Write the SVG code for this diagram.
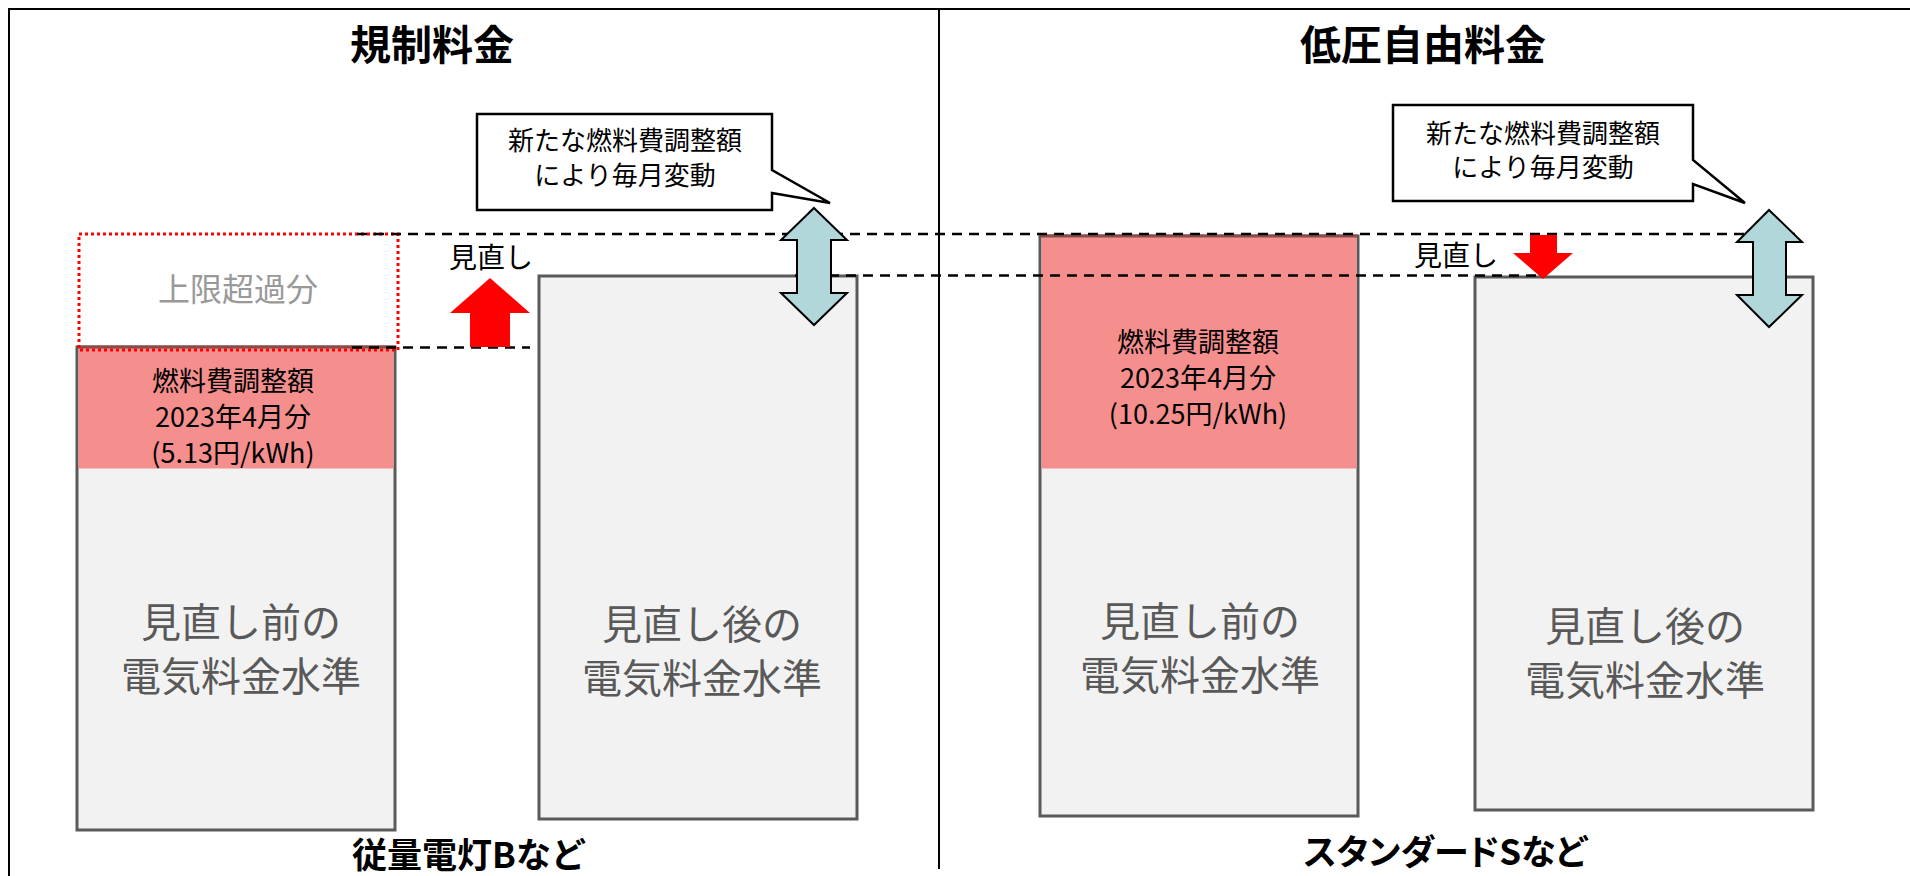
<svg xmlns="http://www.w3.org/2000/svg" width="1910" height="876" viewBox="0 0 1910 876">
<style>
text{font-family:"Noto Sans CJK JP","Noto Sans",sans-serif;text-anchor:middle}
.title{font-size:41px;font-weight:bold;fill:#000}
.sub{font-size:35px;font-weight:bold;fill:#000}
.call{font-size:26px;fill:#000}
.pinkt{font-size:27px;fill:#000}
.big{font-size:40px;fill:#595959}
.rev{font-size:28px;fill:#000}
.box{fill:#F2F2F2;stroke:#5A5A5A;stroke-width:3}
.pink{fill:#F58F8E}
.frame{stroke:#000;stroke-width:2;fill:none}
.dash{stroke:#000;stroke-width:2.5;stroke-dasharray:10 7;fill:none}
.bub{fill:#fff;stroke:#000;stroke-width:2.5;stroke-linejoin:miter}
.dbl{fill:#B2D7DA;stroke:#000;stroke-width:2;stroke-linejoin:miter}
.red{fill:#FF0000}
</style>
<rect x="0" y="0" width="1910" height="876" fill="#fff"/>
<g id="frame">
<line class="frame" x1="8" y1="9" x2="1910" y2="9"/>
<line class="frame" x1="9" y1="8" x2="9" y2="876"/>
<line class="frame" x1="939" y1="9" x2="939" y2="869"/>
</g>
<g id="titles">
<text class="title" x="432" y="60">規制料金</text>
<text class="title" x="1423" y="60">低圧自由料金</text>
<text class="sub" x="469" y="868">従量電灯Bなど</text>
<text class="sub" x="1445" y="865" style="font-feature-settings:'palt'">スタンダードSなど</text>
</g>
<g id="left-before">
<rect class="box" x="77" y="347" width="318" height="483"/>
<rect class="pink" x="78.5" y="348.5" width="315" height="120"/>
<line x1="77" y1="347" x2="395" y2="347" stroke="#8E4A4A" stroke-width="3"/>
<text class="pinkt"><tspan x="233" y="391">燃料費調整額</tspan><tspan x="233" y="427">2023年4月分</tspan><tspan x="233" y="463">(5.13円/kWh)</tspan></text>
<text class="big"><tspan x="241" y="637">見直し前の</tspan><tspan x="241" y="691">電気料金水準</tspan></text>
</g>
<g id="left-excess">
<rect x="79" y="234" width="319" height="116" fill="none" stroke="#FF0000" stroke-width="3" stroke-dasharray="3 3"/>
<text x="238" y="301" style="font-size:32px;fill:#999999">上限超過分</text>
</g>
<g id="left-after">
<rect class="box" x="539" y="276" width="318" height="543"/>
<text class="big"><tspan x="702" y="639">見直し後の</tspan><tspan x="702" y="693">電気料金水準</tspan></text>
</g>
<g id="right-before">
<rect class="box" x="1040" y="236" width="318" height="580"/>
<rect class="pink" x="1041.5" y="237.5" width="315" height="231"/>
<line x1="1040" y1="236" x2="1358" y2="236" stroke="#8E4A4A" stroke-width="3"/>
<text class="pinkt"><tspan x="1198" y="352">燃料費調整額</tspan><tspan x="1198" y="388">2023年4月分</tspan><tspan x="1198" y="424">(10.25円/kWh)</tspan></text>
<text class="big"><tspan x="1200" y="636">見直し前の</tspan><tspan x="1200" y="690">電気料金水準</tspan></text>
</g>
<g id="right-after">
<rect class="box" x="1475" y="277" width="338" height="533"/>
<text class="big"><tspan x="1645" y="641">見直し後の</tspan><tspan x="1645" y="695">電気料金水準</tspan></text>
</g>
<g id="connectors">
<line class="dash" x1="357" y1="234" x2="1800" y2="234"/>
<line class="dash" x1="795" y1="275.5" x2="1541" y2="275.5"/>
<line class="dash" x1="352" y1="347.5" x2="530" y2="347.5"/>
<polygon class="red" points="490,278 530,313 510,313 510,347 470,347 470,313 450,313"/>
<polygon class="red" points="1530,235 1557,235 1557,253 1573,253 1543,279 1513,253 1530,253"/>
<polygon class="dbl" points="814,208 847,240 831,240 831,293 847,293 814,325 781,293 797,293 797,240 781,240"/>
<polygon class="dbl" points="1769,210 1802,242 1786,242 1786,295 1802,295 1769,327 1737,295 1753,295 1753,242 1737,242"/>
</g>
<g id="left-revision-label">
<text class="rev" x="491" y="268">見直し</text>
</g>
<g id="right-revision-label">
<text class="rev" x="1456" y="266">見直し</text>
</g>
<g id="left-callout">
<path class="bub" d="M477,114 H772 V170 L830,203 L772,193 V210 H477 Z"/>
<text class="call"><tspan x="625" y="150">新たな燃料費調整額</tspan><tspan x="625" y="185">により毎月変動</tspan></text>
</g>
<g id="right-callout">
<path class="bub" d="M1393,105 H1693 V160 L1745,203 L1693,184 V201 H1393 Z"/>
<text class="call"><tspan x="1543" y="143">新たな燃料費調整額</tspan><tspan x="1543" y="177">により毎月変動</tspan></text>
</g>
</svg>
